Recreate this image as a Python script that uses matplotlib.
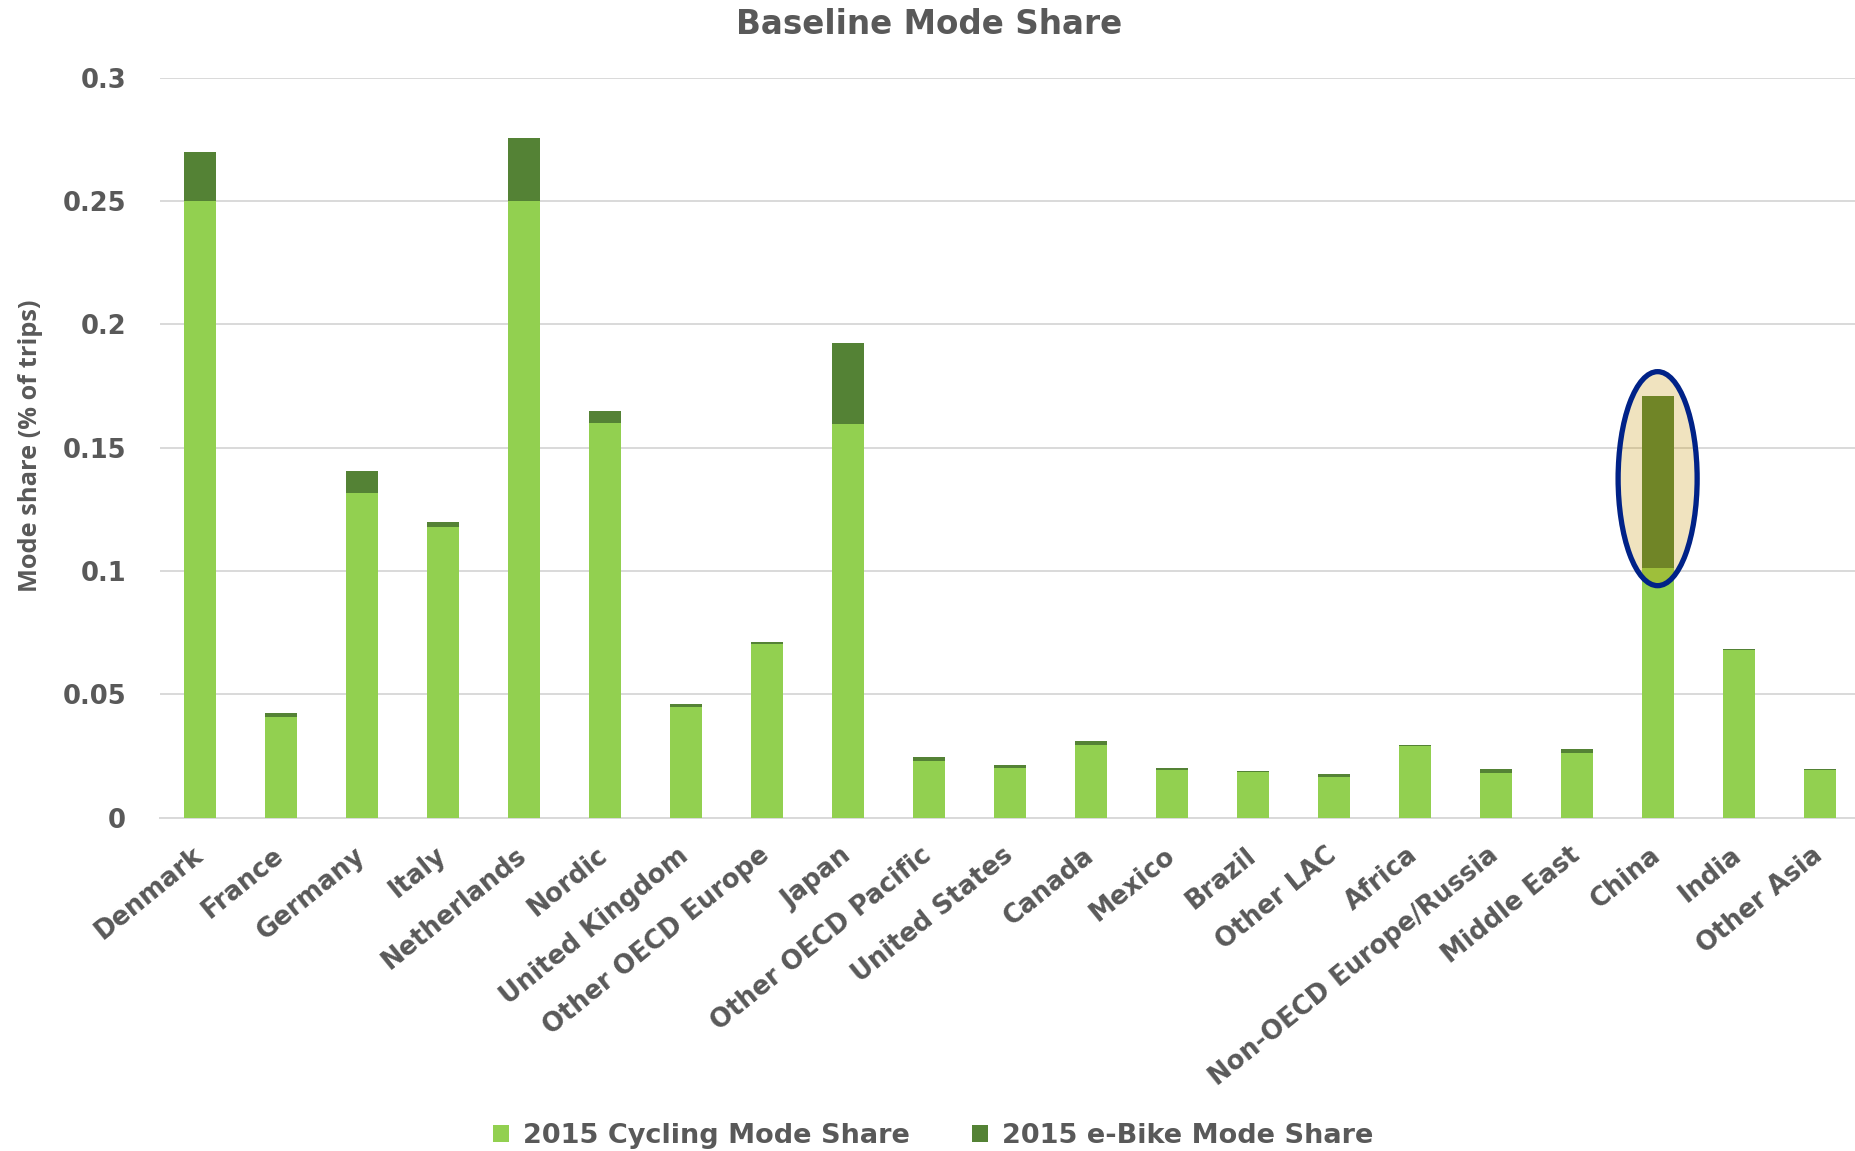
import matplotlib
matplotlib.use("Agg")
import matplotlib.pyplot as plt
from matplotlib.patches import Ellipse
from matplotlib.ticker import FixedLocator

# Regions and 2015 mode shares (fraction of trips)
regions = ["Denmark", "France", "Germany", "Italy", "Netherlands", "Nordic",
           "United Kingdom", "Other OECD Europe", "Japan", "Other OECD Pacific",
           "United States", "Canada", "Mexico", "Brazil", "Other LAC", "Africa",
           "Non-OECD Europe/Russia", "Middle East", "China", "India", "Other Asia"]
cycling_share = [0.250, 0.0407, 0.1315, 0.1177, 0.250, 0.1601,
                 0.0450, 0.0704, 0.1596, 0.0230,
                 0.0203, 0.0295, 0.0192, 0.0185, 0.0165, 0.0290,
                 0.0181, 0.0262, 0.1013, 0.0680, 0.0192]
ebike_share = [0.020, 0.0019, 0.0092, 0.0023, 0.0254, 0.0048,
               0.0010, 0.0010, 0.0327, 0.0016,
               0.0011, 0.0016, 0.0011, 0.0004, 0.0011, 0.0005,
               0.0016, 0.0017, 0.0697, 0.0005, 0.0005]
y_ticks = [0, 0.05, 0.10, 0.15, 0.20, 0.25, 0.30]
y_tick_labels = ["0", "0.05", "0.1", "0.15", "0.2", "0.25", "0.3"]
highlight = "China"

LIGHT = "#92D050"
DARK = "#548235"
TEXT = "#595959"
GRID = "#D9D9D9"
FONT = "DejaVu Sans"

W, H = 1855, 1151
fig = plt.figure(figsize=(W / 100, H / 100), dpi=100)
fig.patch.set_facecolor("white")

# Plot area in pixel terms: x from 159.5 (21 slots of ~81 px), y baseline 818, top 77.7
left_px, slot_px = 159.5, 80.98
ax_w = slot_px * len(regions)
ax = fig.add_axes([left_px / W, 1 - 817.7 / H, ax_w / W, (817.7 - 77.7) / H])

x = list(range(len(regions)))
ax.bar(x, cycling_share, width=0.395, color=LIGHT, zorder=3,
       label="2015 Cycling Mode Share")
ax.bar(x, ebike_share, width=0.395, bottom=cycling_share, color=DARK, zorder=3,
       label="2015 e-Bike Mode Share")

ax.set_xlim(-0.5, len(regions) - 0.5)
ax.set_ylim(0, 0.30)
ax.yaxis.set_major_locator(FixedLocator(y_ticks))
ax.set_yticklabels(y_tick_labels)
ax.grid(axis="y", color=GRID, linewidth=1.4, zorder=0)
ax.set_axisbelow(True)
for s in ["top", "right", "left"]:
    ax.spines[s].set_visible(False)
ax.spines["bottom"].set_color(GRID)
ax.spines["bottom"].set_linewidth(1.4)
ax.spines["bottom"].set_zorder(1)

ax.tick_params(axis="y", length=0, pad=24, labelsize=18.5, labelcolor=TEXT)
for lbl in ax.get_yticklabels():
    lbl.set_fontweight("bold")
    lbl.set_fontfamily(FONT)

ax.set_xticks(x)
ax.set_xticklabels(regions, rotation=39, ha="right", va="center",
                   rotation_mode="anchor", fontsize=18.5, fontweight="bold",
                   color=TEXT, fontfamily=FONT)
ax.tick_params(axis="x", length=0, pad=25)

# Highlight ellipse around the China bar
ci = regions.index(highlight)
c_total = cycling_share[ci] + ebike_share[ci]
px_per_unit = (817.7 - 77.7) / 0.30
ell_h = 219 / px_per_unit
ell_w = 84 / slot_px
ell_cy = (c_total + cycling_share[ci]) / 2 + 0.0013
ax.add_patch(Ellipse((ci, ell_cy), ell_w, ell_h, facecolor=(196/255, 144/255, 0, 0.25),
                     edgecolor="none", zorder=4))
ax.add_patch(Ellipse((ci, ell_cy), ell_w - 5 / slot_px, ell_h - 5 / px_per_unit,
                     facecolor="none", edgecolor="#002288", linewidth=3.8, zorder=5))

fig.text(0.501, 1 - 25 / H, "Baseline Mode Share", ha="center", va="center",
         fontsize=23.5, fontweight="bold", color=TEXT, fontfamily=FONT)
fig.text(31 / W, 1 - 446 / H, "Mode share (% of trips)", rotation=90,
         ha="center", va="center", fontsize=18.3, fontweight="bold",
         color=TEXT, fontfamily="Open Sans")

handles, labels = ax.get_legend_handles_labels()
leg = fig.legend(handles, labels, loc="center", bbox_to_anchor=(0.503, 1 - 1136 / H),
                 ncol=2, frameon=False, handlelength=0.6, handleheight=0.6,
                 handletextpad=0.5, columnspacing=2.3,
                 prop={"family": FONT, "weight": "bold", "size": 19.5})
for t in leg.get_texts():
    t.set_color(TEXT)

fig.savefig("out.png", dpi=100, facecolor="white")
